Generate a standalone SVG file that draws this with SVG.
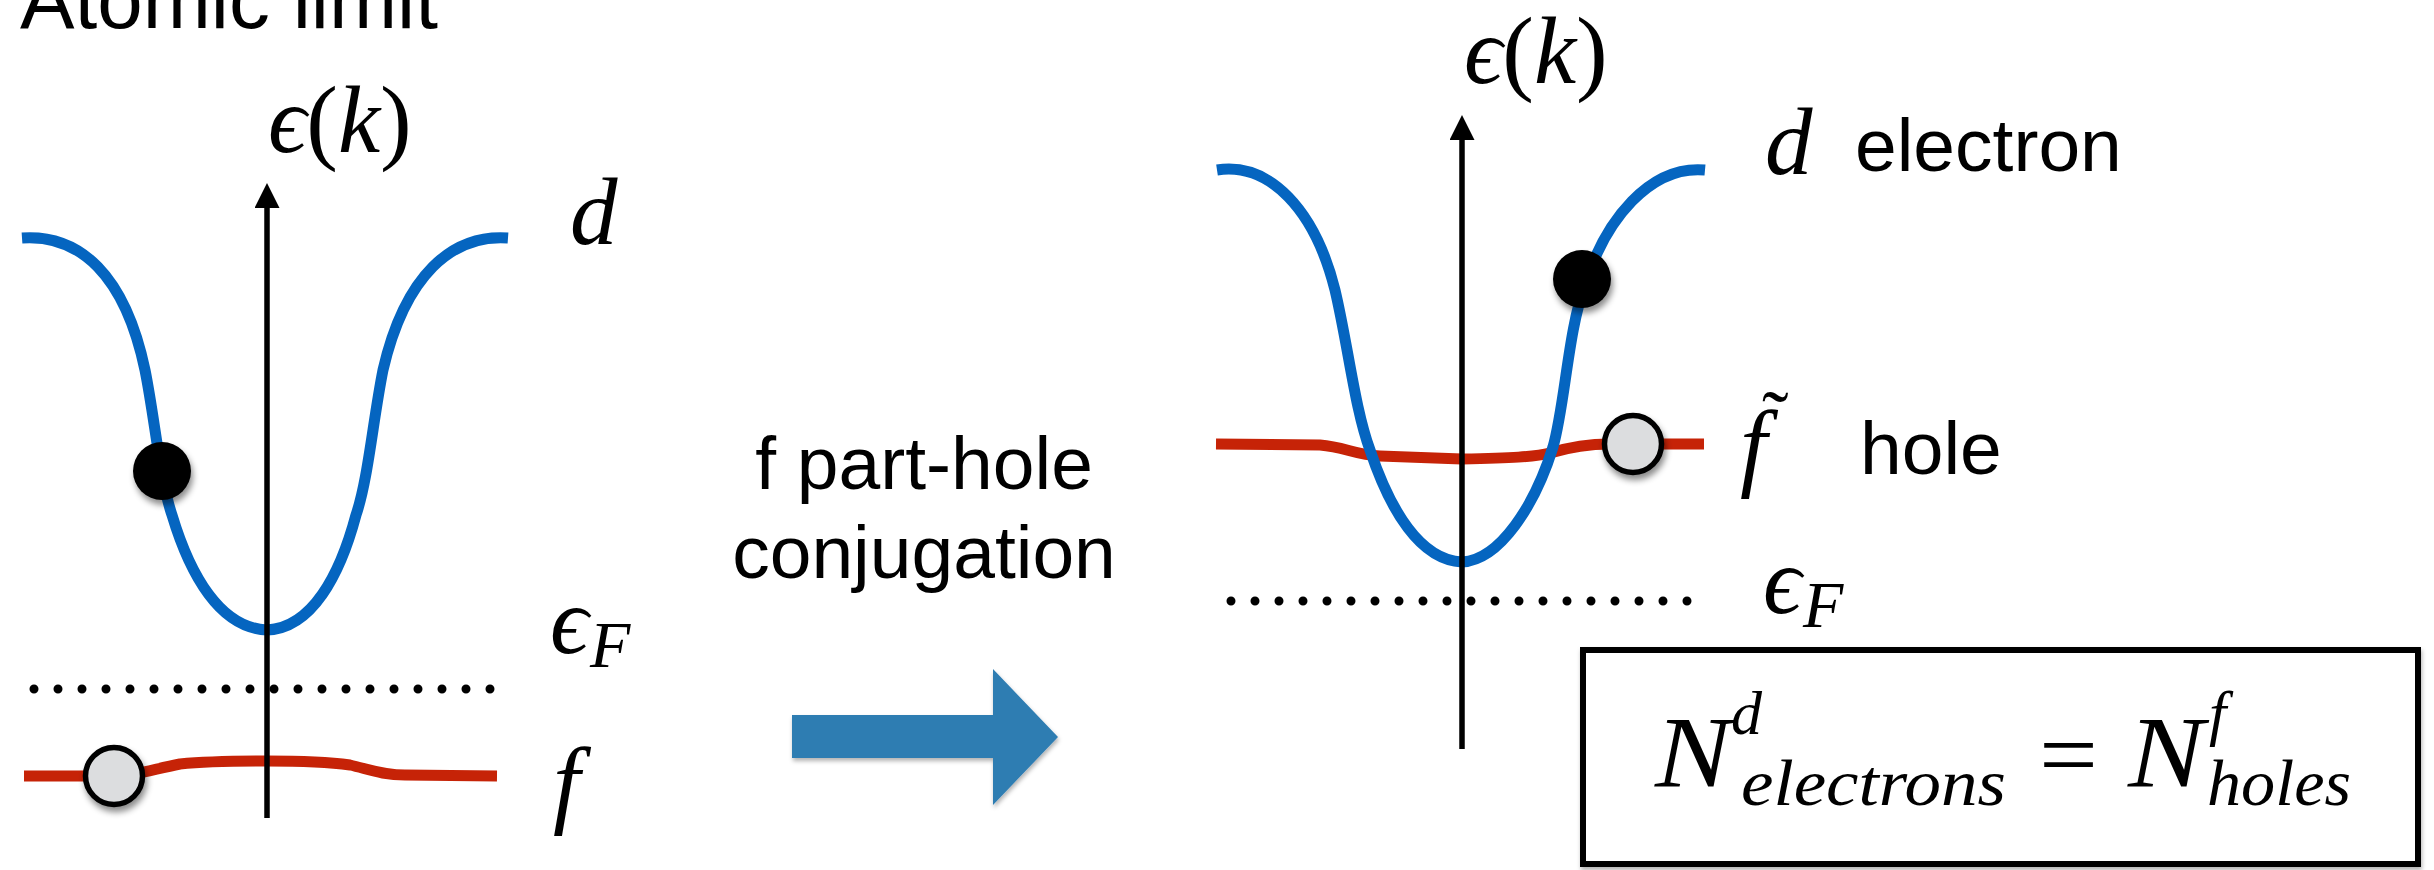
<svg xmlns="http://www.w3.org/2000/svg" width="2434" height="870" viewBox="0 0 2434 870">
<defs>
<style>
.sans{font-family:"Liberation Sans",Arial,sans-serif;fill:#000;}
.math{font-family:"Liberation Serif","DejaVu Serif",serif;font-style:italic;fill:#000;}
.rm{font-family:"Liberation Serif","DejaVu Serif",serif;font-style:normal;fill:#000;}
.band-d{fill:none;stroke:#0565C0;stroke-width:11;stroke-linejoin:round;}
.band-f{fill:none;stroke:#C62307;stroke-width:11;stroke-linejoin:round;}
.axis{stroke:#000;stroke-width:5.5;fill:none;}
.fermi{stroke:#000;stroke-width:9;stroke-linecap:round;stroke-dasharray:0 24;fill:none;}
.electron{fill:#000;filter:url(#sh);}
.hole{fill:#DCDDDF;stroke:#000;stroke-width:5.5;filter:url(#sh);}
</style>
<filter id="sh" x="-50%" y="-50%" width="200%" height="200%"><feDropShadow dx="2" dy="5" stdDeviation="3" flood-color="#000" flood-opacity="0.45"/></filter>
<filter id="sh2" x="-10%" y="-10%" width="120%" height="130%"><feDropShadow dx="1" dy="3" stdDeviation="2" flood-color="#000" flood-opacity="0.3"/></filter>
<marker id="ah" markerUnits="userSpaceOnUse" markerWidth="26" markerHeight="26" refX="0" refY="12.5" orient="auto" viewBox="0 0 26 26">
<path d="M0,0 L25,12.5 L0,25 z" fill="#000"/>
</marker>
</defs>

<g id="title">
<text class="sans" x="20" y="28" font-size="82" textLength="418" lengthAdjust="spacingAndGlyphs">Atomic limit</text>
</g>

<g id="left-plot">
<path id="left-f-band" class="band-f" d="M24,776 L110,776 C135,776 150,770 180,764 C210,761 240,761 267,761 C300,761 328,762 350,765 C368,769 382,775 405,775 L497,776"/>
<path id="left-d-band" class="band-d" d="M22,238 C80,234 125,275 145,370 C155,420 160,480 172,515 C190,575 220,628 267,630 C312,628 340,575 356,515 C368,480 373,420 383,370 C405,275 452,234 508,238"/>
<line id="left-fermi" class="fermi" x1="34" y1="689" x2="514" y2="689"/>
<line id="left-axis" class="axis" x1="267" y1="818" x2="267" y2="208" marker-end="url(#ah)"/>
<circle id="left-electron" class="electron" cx="162" cy="471" r="29"/>
<circle id="left-hole" class="hole" cx="114" cy="776" r="28.5"/>
<text class="math" x="268" y="152" font-size="95">ϵ<tspan class="rm">(</tspan>k<tspan class="rm">)</tspan></text>
<text class="math" x="570" y="244" font-size="95">d</text>
<text class="math" x="550" y="653" font-size="95">ϵ</text>
<text class="math" x="590" y="667" font-size="66">F</text>
<text class="math" x="553" y="815" font-size="97">f</text>
</g>

<g id="transformation">
<text class="sans" x="924" y="489" font-size="75" text-anchor="middle">f part-hole</text>
<text class="sans" x="924" y="578" font-size="75" text-anchor="middle">conjugation</text>
<polygon id="transform-arrow" points="792,715 993,715 993,669 1058,737 993,805 993,758 792,758" fill="#2F7DB2" filter="url(#sh2)"/>
</g>

<g id="right-plot">
<path id="right-f-band" class="band-f" d="M1216,444 L1320,445 C1345,447 1355,455 1380,456 L1462,459 C1510,458 1535,457 1550,453 C1570,447 1590,444 1610,444 L1704,444"/>
<path id="right-d-band" class="band-d" d="M1217,170 C1270,162 1315,210 1335,290 C1348,345 1355,410 1370,450 C1390,510 1420,560 1462,562 C1500,560 1535,505 1553,447 C1565,405 1568,330 1585,285 C1605,220 1650,165 1705,170"/>
<line id="right-fermi" class="fermi" x1="1231" y1="601" x2="1711" y2="601"/>
<line id="right-axis" class="axis" x1="1462" y1="749" x2="1462" y2="140" marker-end="url(#ah)"/>
<circle id="right-electron" class="electron" cx="1582" cy="279" r="29"/>
<circle id="right-hole" class="hole" cx="1633" cy="444" r="28.5"/>
<text class="math" x="1464" y="83" font-size="95">ϵ<tspan class="rm">(</tspan>k<tspan class="rm">)</tspan></text>
<text class="math" x="1765" y="174" font-size="95">d</text>
<text class="sans" x="1855" y="171" font-size="75">electron</text>
<text class="math" x="1740" y="478" font-size="97">f<tspan class="rm" x="1762" y="446" font-size="80">˜</tspan></text>
<text class="sans" x="1860" y="474" font-size="75">hole</text>
<text class="math" x="1763" y="613" font-size="95">ϵ</text>
<text class="math" x="1803" y="627" font-size="66">F</text>
</g>

<g id="equation-box">
<rect x="1583" y="650" width="835" height="214" fill="#fff" stroke="#000" stroke-width="6" filter="url(#sh2)"/>
<text class="math" x="1655" y="787" font-size="102" textLength="76" lengthAdjust="spacingAndGlyphs">N</text>
<text class="math" x="1731" y="734" font-size="62">d</text>
<text class="math" x="1741" y="805" font-size="66" textLength="265" lengthAdjust="spacingAndGlyphs">electrons</text>
<text class="rm" x="2039" y="787" font-size="96" textLength="59" lengthAdjust="spacingAndGlyphs">=</text>
<text class="math" x="2128" y="787" font-size="102" textLength="76" lengthAdjust="spacingAndGlyphs">N</text>
<text class="math" x="2209" y="734" font-size="62">f</text>
<text class="math" x="2207" y="805" font-size="66" textLength="144" lengthAdjust="spacingAndGlyphs">holes</text>
</g>
</svg>
